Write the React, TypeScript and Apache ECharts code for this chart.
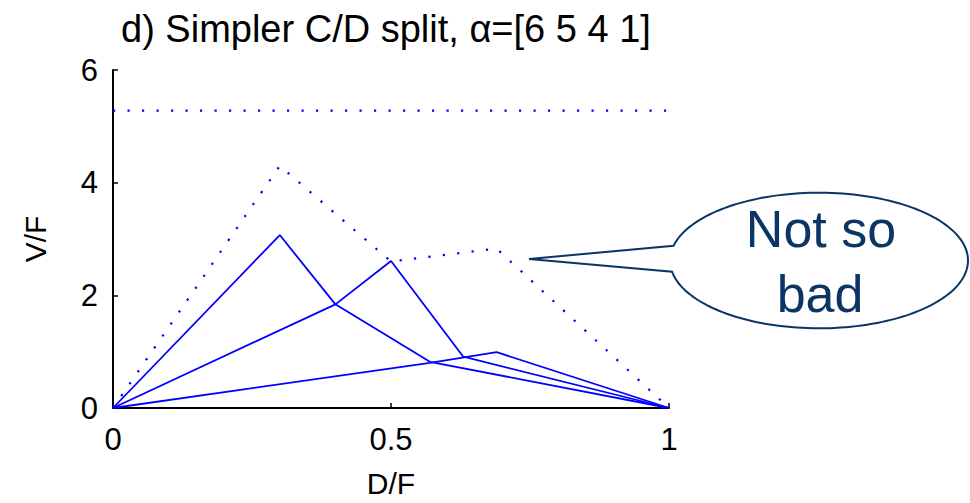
import React, { useEffect, useRef } from "react";
import * as echarts from "echarts";

const titleText = "d) Simpler C/D split, \u03b1=[6 5 4 1]";
const xName = "D/F";
const yName = "V/F";
const calloutLines = ["Not so", "bad"];

// [D/F, V/F]
const upperBound: number[][] = [
  [0, 5.28],
  [1, 5.28],
];
const envelope: number[][] = [
  [0, 0],
  [0.3, 4.3],
  [0.5, 2.6],
  [0.69, 2.83],
  [1, 0],
];
const curveA: number[][] = [
  [0, 0],
  [0.3, 3.07],
  [0.4, 1.84],
  [0.57, 0.82],
  [1, 0],
];
const curveB: number[][] = [
  [0, 0],
  [0.4, 1.84],
  [0.5, 2.61],
  [0.63, 0.91],
  [1, 0],
];
const curveC: number[][] = [
  [0, 0],
  [0.57, 0.8],
  [0.69, 0.99],
  [1, 0],
];

const BLUE = "#0000ff";
const NAVY = "#0b3564";
const FONT = "'Liberation Sans', Arial, sans-serif";

function calloutPoints(): number[][] {
  const cx = 819;
  const cy = 260.5;
  const rx = 149;
  const ry = 67.8;
  const t1 = Math.PI + 0.22;
  const t2 = 3 * Math.PI - 0.166;
  const pts: number[][] = [];
  const n = 160;
  for (let i = 0; i <= n; i++) {
    const t = t1 + ((t2 - t1) * i) / n;
    pts.push([cx + rx * Math.cos(t), cy + ry * Math.sin(t)]);
  }
  pts.push([529, 259]);
  return pts;
}

export default function App() {
  const ref = useRef<HTMLDivElement>(null);
  useEffect(() => {
    if (!ref.current) return;
    const chart = echarts.init(ref.current, undefined, { renderer: "svg" });
    const solid = (name: string, data: number[][]) => ({
      name,
      type: "line",
      data,
      symbol: "none",
      lineStyle: { color: BLUE, width: 1.8 },
      z: 3,
    });
    const dotted = (name: string, data: number[][]) => ({
      name,
      type: "line",
      data,
      symbol: "none",
      lineStyle: { color: BLUE, width: 2.2, type: [2.2, 12.3] },
      z: 2,
    });
    chart.setOption({
      animation: false,
      backgroundColor: "#ffffff",
      title: {
        text: titleText,
        left: 121,
        top: 9,
        padding: 0,
        textStyle: {
          fontFamily: FONT,
          fontSize: 38,
          fontWeight: "normal",
          color: "#000",
          lineHeight: 40,
        },
      },
      grid: { left: 113, right: 301, top: 70, bottom: 91 },
      xAxis: {
        type: "value",
        min: 0,
        max: 1,
        interval: 0.5,
        name: xName,
        nameLocation: "middle",
        nameGap: 60,
        nameTextStyle: { fontFamily: FONT, fontSize: 30, color: "#000" },
        axisLine: { show: true, onZero: false, lineStyle: { color: "#000", width: 2 } },
        axisTick: { show: true, inside: true, length: 5, lineStyle: { color: "#000", width: 1.5 } },
        axisLabel: { fontFamily: FONT, fontSize: 31, color: "#000", margin: 16 },
        splitLine: { show: false },
      },
      yAxis: {
        type: "value",
        min: 0,
        max: 6,
        interval: 2,
        name: yName,
        nameLocation: "middle",
        nameGap: 63,
        nameTextStyle: { fontFamily: FONT, fontSize: 30, color: "#000" },
        axisLine: { show: true, onZero: false, lineStyle: { color: "#000", width: 2 } },
        axisTick: { show: true, inside: true, length: 5, lineStyle: { color: "#000", width: 1.5 } },
        axisLabel: { fontFamily: FONT, fontSize: 31, color: "#000", margin: 15 },
        splitLine: { show: false },
      },
      series: [
        dotted("upper", upperBound),
        dotted("envelope", envelope),
        solid("A", curveA),
        solid("B", curveB),
        solid("C", curveC),
      ],
      graphic: [
        {
          type: "polygon",
          shape: { points: calloutPoints() },
          style: { fill: "#ffffff", stroke: NAVY, lineWidth: 2 },
          z: 10,
        },
        {
          type: "text",
          x: 821,
          y: 246.7 - 18,
          style: {
            text: calloutLines[0],
            fontFamily: FONT,
            fontSize: 52,
            fill: NAVY,
            align: "center",
            verticalAlign: "middle",
          },
          z: 11,
        },
        {
          type: "text",
          x: 820,
          y: 311.7 - 18,
          style: {
            text: calloutLines[1],
            fontFamily: FONT,
            fontSize: 52,
            fill: NAVY,
            align: "center",
            verticalAlign: "middle",
          },
          z: 11,
        },
      ],
    });
    return () => chart.dispose();
  }, []);
  return (
    <div
      ref={ref}
      style={{ position: "fixed", left: 0, top: 0, width: 970, height: 503, background: "#fff" }}
    />
  );
}
